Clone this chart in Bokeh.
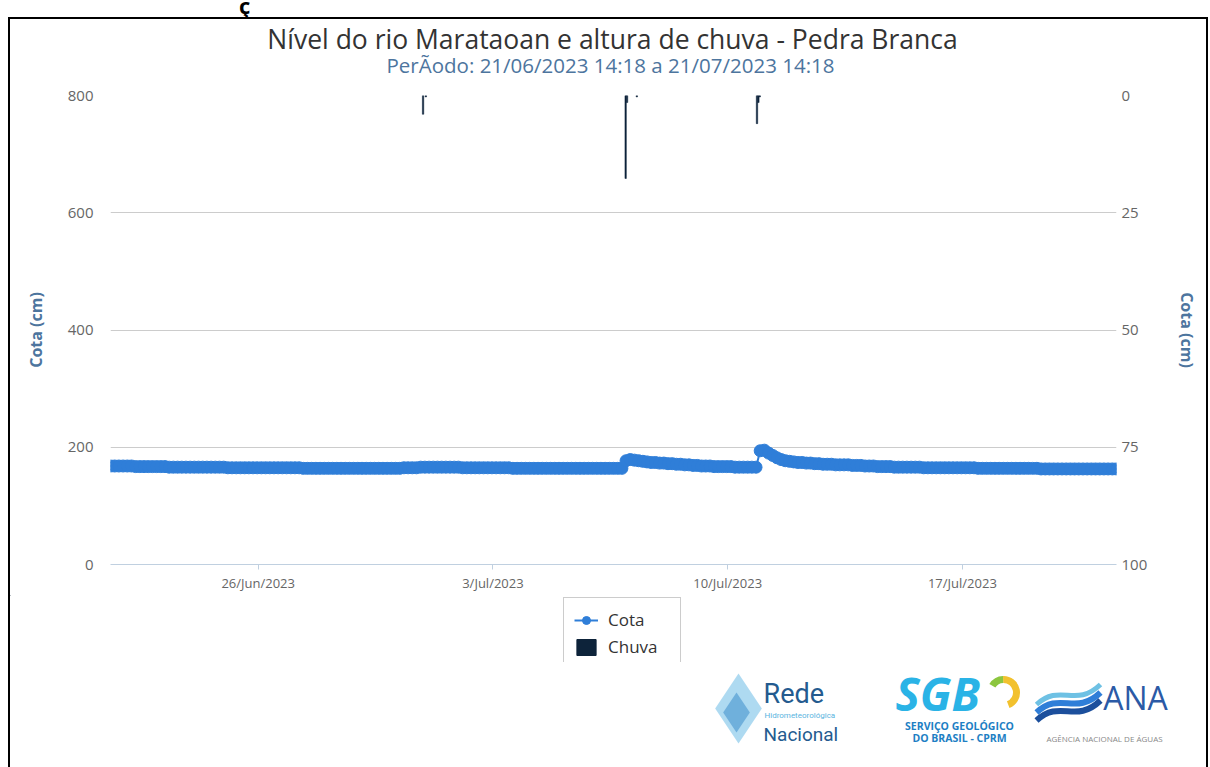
import pandas as pd
from bokeh.plotting import figure
from bokeh.models import (Range1d, LinearAxis, FixedTicker, Legend, LegendItem,
                          Div, Spacer, ColumnDataSource, Plot)
from bokeh.layouts import column, row
from bokeh.core.properties import value
from bokeh.embed import file_html
from bokeh.resources import INLINE

# ---------------- data ----------------
START = "2023-06-21 14:18"
END = "2023-07-21 14:18"
STEP = "3h"

# river level (cm), one value every 3 h from START
cota = [
    168, 168, 168, 168, 168, 168, 167, 167,
    167, 167, 167, 167, 167, 167, 166, 166,
    166, 166, 166, 166, 166, 166, 166, 166,
    166, 166, 166, 166, 165, 165, 165, 165,
    165, 165, 165, 165, 165, 165, 165, 165,
    165, 165, 165, 165, 165, 165, 164, 164,
    164, 164, 164, 164, 164, 164, 164, 164,
    164, 164, 164, 164, 164, 164, 164, 164,
    164, 164, 164, 164, 164, 164, 165, 165,
    165, 165, 166, 166, 166, 166, 166, 166,
    166, 166, 166, 166, 165, 165, 165, 165,
    165, 165, 165, 165, 165, 165, 165, 165,
    164, 164, 164, 164, 164, 164, 164, 164,
    164, 164, 164, 164, 164, 164, 164, 164,
    164, 164, 164, 164, 164, 164, 164, 164,
    164, 164, 164, 177, 179, 178, 177, 176,
    175, 174, 174, 173, 173, 172, 172, 171,
    171, 170, 170, 169, 169, 168, 168, 168,
    167, 167, 167, 167, 167, 166, 166, 166,
    166, 166, 166, 194, 195, 190, 186, 182,
    179, 177, 176, 175, 174, 174, 173, 173,
    172, 172, 171, 171, 171, 170, 170, 170,
    170, 169, 169, 169, 168, 168, 168, 167,
    167, 167, 167, 166, 166, 166, 166, 166,
    166, 166, 165, 165, 165, 165, 165, 165,
    165, 165, 165, 165, 165, 165, 165, 164,
    164, 164, 164, 164, 164, 164, 164, 164,
    164, 164, 164, 164, 164, 164, 163, 163,
    163, 163, 163, 163, 163, 163, 163, 163,
    163, 163, 163, 163, 163, 163, 163, 163,
    163,
]

# rainfall (mm)
chuva_time = ["2023-06-30 22:00", "2023-07-01 00:00", "2023-07-06 23:00",
              "2023-07-07 00:00", "2023-07-07 07:00", "2023-07-10 21:00",
              "2023-07-10 22:00", "2023-07-10 23:00"]
chuva_mm = [4.0, 0.3, 17.7, 1.5, 0.3, 6.0, 1.5, 0.3]

x_tick_dates = ["2023-06-26", "2023-07-03", "2023-07-10", "2023-07-17"]
x_tick_labels = ["26/Jun/2023", "3/Jul/2023", "10/Jul/2023", "17/Jul/2023"]
left_ticks = [0, 200, 400, 600, 800]
right_ticks = [0, 25, 50, 75, 100]

TITLE = "Nível do rio Marataoan e altura de chuva - Pedra Branca"
SUBTITLE = "PerÃodo: 21/06/2023 14:18 a 21/07/2023 14:18"
SERIES = ["Cota", "Chuva"]
AXIS_TITLE = "Cota (cm)"

# ---------------- helpers ----------------
def ms(s):
    return pd.Timestamp(s).value / 1e6

cota_t = [ts.value / 1e6 for ts in pd.date_range(START, periods=len(cota), freq=STEP)]
src_cota = ColumnDataSource(dict(x=cota_t, y=cota))
src_chuva = ColumnDataSource(dict(x=[ms(t) for t in chuva_time], top=chuva_mm))

BLUE = "#2f7ed8"
NAVY = "#0d233a"
AXT = "#4d759e"
FONT = "Open Sans"
W = 1196          # canvas width (page x 10..1206)
CX = 10           # page x of canvas left
NOALIGN = {"frame_align": False} if "frame_align" in Plot.properties() else {}


def panel(h):
    f = figure(width=W, height=h, output_backend="svg", toolbar_location=None,
               x_range=Range1d(0, W), y_range=Range1d(h, 0),
               x_axis_location=None, y_axis_location=None, min_border=0, **NOALIGN)
    f.outline_line_color = None
    f.grid.visible = False
    return f


def txt(f, top, s, px, py, size, color, align="center", style="normal", font=FONT):
    f.text(x=[px - CX], y=[py - top], text=[s], text_font=value(font),
           text_font_size=f"{size}px", text_color=color, text_align=align,
           text_baseline="middle", text_font_style=style)


# ---------------- title panel (page y 19..85) ----------------
T_TOP, T_H = 19, 66
t = panel(T_H)
txt(t, T_TOP, TITLE, 612, 38, 26.5, "#333333")
txt(t, T_TOP, SUBTITLE, 610, 64, 20.5, AXT)

# ---------------- main chart (page y 85..595) ----------------
P_TOP, P_H = 85, 510
p = figure(width=W, height=P_H, output_backend="svg", toolbar_location=None,
           x_range=Range1d(ms(START), ms(END)), y_range=Range1d(0, 800),
           min_border_left=100, min_border_right=90, min_border_top=95 - P_TOP,
           min_border_bottom=P_TOP + P_H - 564, **NOALIGN)
p.extra_y_ranges = {"chuva": Range1d(100, 0)}
p.outline_line_color = None

xa = p.xaxis[0]
xa.ticker = FixedTicker(ticks=[ms(d) for d in x_tick_dates])
xa.major_label_overrides = {ms(d): l for d, l in zip(x_tick_dates, x_tick_labels)}
xa.axis_line_color = "#c0d0e0"
xa.major_tick_line_color = "#c0d0e0"
xa.major_tick_out = 5
xa.major_tick_in = 0
xa.minor_tick_line_color = None
xa.major_label_text_font = FONT
xa.major_label_text_font_size = "13px"
xa.major_label_text_color = "#666666"
xa.major_label_standoff = 4
p.xgrid.visible = False

ya = p.yaxis[0]
ya.ticker = FixedTicker(ticks=left_ticks)
ya.axis_line_color = None
ya.major_tick_line_color = None
ya.minor_tick_line_color = None
ya.major_tick_out = 0
ya.major_tick_in = 0
ya.major_label_standoff = 17
ya.major_label_text_font = FONT
ya.major_label_text_font_size = "15px"
ya.major_label_text_color = "#666666"
ya.axis_label = AXIS_TITLE
ya.axis_label_text_font = FONT
ya.axis_label_text_font_size = "16px"
ya.axis_label_text_font_style = "bold"
ya.axis_label_text_color = AXT
ya.axis_label_standoff = 18
p.ygrid.ticker = FixedTicker(ticks=left_ticks)
p.ygrid.grid_line_color = "#cccccc"

ra = LinearAxis(y_range_name="chuva", ticker=FixedTicker(ticks=right_ticks),
                axis_label=AXIS_TITLE)
ra.axis_line_color = None
ra.major_tick_line_color = None
ra.minor_tick_line_color = None
ra.major_tick_out = 0
ra.major_tick_in = 0
ra.major_label_standoff = 5
ra.major_label_text_font = FONT
ra.major_label_text_font_size = "15px"
ra.major_label_text_color = "#666666"
ra.axis_label_text_font = FONT
ra.axis_label_text_font_size = "16px"
ra.axis_label_text_font_style = "bold"
ra.axis_label_text_color = AXT
ra.axis_label_standoff = 26
p.add_layout(ra, "right")

p.vbar(x="x", top="top", bottom=0, width=3600000, source=src_chuva,
       y_range_name="chuva", fill_color=NAVY, line_color=NAVY, line_width=0.5)
p.line("x", "y", source=src_cota, line_color=BLUE, line_width=2)
p.scatter("x", "y", source=src_cota, size=12, marker="circle",
          fill_color=BLUE, line_color=BLUE)

# ---------------- legend panel (page y 595..662) ----------------
B_TOP, B_H = 595, 67
b = panel(B_H)
# off-canvas sample so the legend swatches get their colours
swatch = ColumnDataSource(dict(x=[-5000], y=[-5000], top=[-4990]))
l1 = b.line("x", "y", source=swatch, line_color=BLUE, line_width=2)
l2 = b.scatter("x", "y", source=swatch, size=10, marker="circle",
               fill_color=BLUE, line_color=BLUE)
l3 = b.vbar(x="x", top="top", bottom="y", width=1, source=swatch,
            fill_color=NAVY, line_color=NAVY)
legend = Legend(items=[LegendItem(label=SERIES[0], renderers=[l1, l2]),
                       LegendItem(label=SERIES[1], renderers=[l3])],
                location=(563 - CX, -7))
legend.label_text_font = FONT
legend.label_text_font_size = "17px"
legend.label_text_color = "#333333"
legend.glyph_width = 24
legend.glyph_height = 20
legend.label_standoff = 10
legend.label_width = 62
legend.spacing = 4
legend.padding = 10
legend.margin = 0
legend.border_line_color = "#999999"
legend.border_line_width = 1
legend.background_fill_color = "white"
legend.background_fill_alpha = 1
b.add_layout(legend, "center")

# ---------------- logo panel (page y 662..767) ----------------
C_TOP, C_H = 662, 105
c = panel(C_H)
# Rede Hidrometeorológica Nacional mark
c.scatter(x=[738 - CX], y=[708 - C_TOP], marker="diamond", size=70,
          fill_color="#6cbbe6", fill_alpha=0.55, line_color=None)
c.scatter(x=[736 - CX], y=[712 - C_TOP], marker="diamond", size=40,
          fill_color="#2f86c8", fill_alpha=0.5, line_color=None)
txt(c, C_TOP, "Rede", 763, 693, 27, "#245b8f", align="left", font="Roboto")
txt(c, C_TOP, "Hidrometeorológica", 764, 715, 8, "#5ab4e0", align="left", font="Roboto")
txt(c, C_TOP, "Nacional", 763, 734, 19, "#245b8f", align="left", font="Roboto")
# SGB mark
txt(c, C_TOP, "SGB", 895, 692, 46, "#2ab3e6", align="left", style="bold italic")
c.arc(x=[1003 - CX], y=[692 - C_TOP], radius=13, start_angle=-1.2, end_angle=1.6,
      line_color="#f2c12e", line_width=7)
c.arc(x=[1003 - CX], y=[692 - C_TOP], radius=13, start_angle=1.6, end_angle=2.6,
      line_color="#8cc63f", line_width=7)
txt(c, C_TOP, "SERVIÇO GEOLÓGICO", 959, 725, 10.5, "#1e7fc4", style="bold")
txt(c, C_TOP, "DO BRASIL - CPRM", 959, 737, 10.5, "#1e7fc4", style="bold")
# ANA mark
for dy, col, lw in [(0, "#6ec1e4", 5), (8, "#2f7ed8", 6), (16, "#1c4f9c", 6)]:
    c.bezier(x0=[1036 - CX], y0=[704 + dy - C_TOP], x1=[1100 - CX], y1=[684 + dy - C_TOP],
             cx0=[1060 - CX], cy0=[682 + dy - C_TOP], cx1=[1075 - CX], cy1=[708 + dy - C_TOP],
             line_color=col, line_width=lw)
txt(c, C_TOP, "ANA", 1135, 697, 32, "#2b5aa6")
txt(c, C_TOP, "AGÊNCIA NACIONAL DE ÁGUAS", 1104, 738, 8, "#888888")

# ---------------- page ----------------
head = Div(text='<span style="position:absolute;left:239px;top:-10px;line-height:22px;'
                'font:bold 22px \'Open Sans\';color:#000">ç</span>',
           width=1208, height=17, margin=0,
           styles={"overflow": "hidden", "position": "relative"})
box = column(t, p, b, c, spacing=0, margin=0,
             styles={"border-left": "2px solid #000",
                     "border-right": "2px solid #000",
                     "border-top": "2px solid #000",
                     "width": "1200px", "box-sizing": "border-box"})
page = column(head, row(Spacer(width=8, height=750, margin=0), box, margin=0),
              spacing=0, margin=0)

open("out.html", "w").write(file_html(page, INLINE))
